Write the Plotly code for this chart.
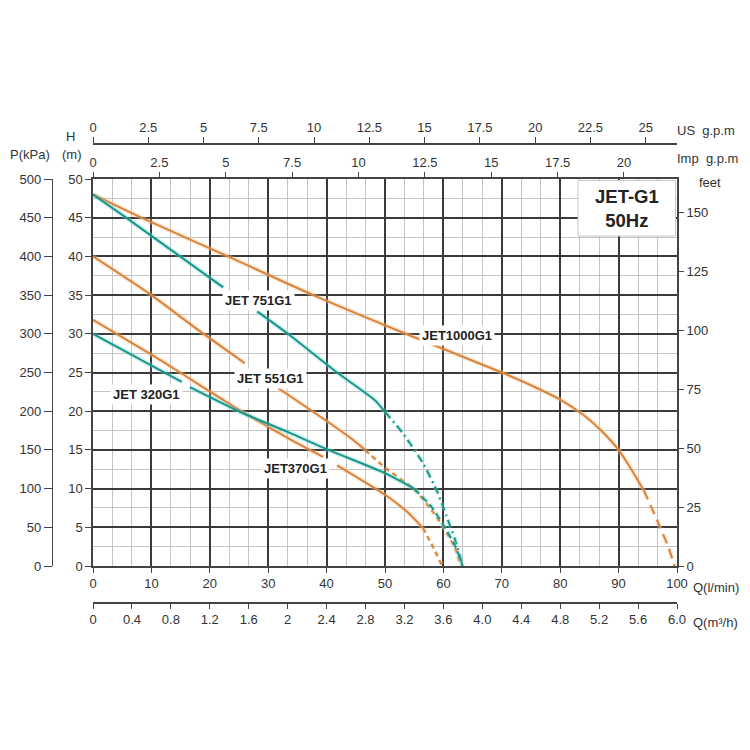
import plotly.graph_objects as go

W = 750
H = 750


def px(x):
    return x / W


def py(y):
    return 1 - y / H


# ---------------- data (Q in l/min, H in m) ----------------
q_1000 = [0, 8, 23.1, 37.7, 52.6, 70, 76, 80, 84, 87, 90, 92, 94.3]
h_1000 = [48, 45.1, 40, 35, 30.3, 25, 23, 21.5, 19.5, 17.5, 15, 12.7, 9.8]
q_1000_d = [94.3, 96.6, 98.5, 99.6]
h_1000_d = [9.8, 5.9, 2.5, 0]

q_751 = [0, 5.5, 14.9, 22.3, None, 28.1, 33.2, 41.8, 48.3, 50]
h_751 = [48, 45.1, 40, 36, None, 32.9, 30.1, 25, 21.4, 19.9]
q_751_d = [50, 53, 56.5, 59, 60.5, 62, 63.3]
h_751_d = [19.9, 17.2, 13.3, 9.5, 6.5, 3.4, 0]

q_551 = [0, 10, 18, 26, None, 31.7, 39.7, 44, 46.6]
h_551 = [40, 35, 30.5, 26.2, None, 23, 18.9, 16.6, 15]
q_551_d = [46.6, 50, 55, 58, 60, 62, 63]
h_551_d = [15, 12.7, 9.9, 7.2, 5, 2.3, 0]

q_370 = [0, 9.8, 14.9, 25.2, 33.7, 39.4, None, 41.8, 50, 53.8, 56.5]
h_370 = [31.8, 27.4, 25, 20.1, 16.4, 14.1, None, 13, 9.2, 7, 4.9]
q_370_d = [56.5, 58.2, 59.8]
h_370_d = [4.9, 2.5, 0]

q_320 = [0, 9.8, 15.2, None, 16.6, 25.2, 33.7, 40, 50, 55]
h_320 = [30, 26, 23.8, None, 23.1, 19.9, 17.2, 15.1, 12, 10]
q_320_d = [55, 58, 60, 62, 63.3]
h_320_d = [10, 7.6, 5.3, 2.6, 0]

labels = ["JET1000G1", "JET 751G1", "JET 551G1", "JET370G1", "JET 320G1"]

m3h_ticks = [0, 0.4, 0.8, 1.2, 1.6, 2, 2.4, 2.8, 3.2, 3.6, 4.0, 4.4, 4.8, 5.2, 5.6, 6.0]
m3h_text = ["0", "0.4", "0.8", "1.2", "1.6", "2", "2.4", "2.8", "3.2", "3.6",
            "4.0", "4.4", "4.8", "5.2", "5.6", "6.0"]
us_ticks = [0, 2.5, 5, 7.5, 10, 12.5, 15, 17.5, 20, 22.5, 25]
imp_ticks = [0, 2.5, 5, 7.5, 10, 12.5, 15, 17.5, 20]
kpa_ticks = list(range(0, 501, 50))
feet_ticks = [0, 25, 50, 75, 100, 125, 150]

# unit conversions (from l/min and m)
LPM_PER_M3H = 1000 / 60
LPM_PER_USG = 3.78541
LPM_PER_IMPG = 4.54609
KPA_PER_M = 10.0
M_PER_FT = 0.3048

ORANGE = "#D8843C"
TEAL = "#19968A"
HALO_O = "rgba(246,190,140,0.33)"
HALO_T = "rgba(120,212,206,0.33)"
FONT = "Liberation Sans, Arial, sans-serif"
TXT = "#333333"

fig = go.Figure()


def add_curve(q, h, color, halo, dash="solid"):
    fig.add_trace(go.Scatter(x=q, y=h, mode="lines",
                             line=dict(color=halo, width=5, dash=dash, shape="spline", smoothing=0.6),
                             hoverinfo="skip", showlegend=False, connectgaps=False))
    fig.add_trace(go.Scatter(x=q, y=h, mode="lines",
                             line=dict(color=color, width=2, dash=dash, shape="spline", smoothing=0.6),
                             showlegend=False, connectgaps=False))


add_curve(q_1000, h_1000, ORANGE, HALO_O)
add_curve(q_1000_d, h_1000_d, ORANGE, HALO_O, "10px,6px")
add_curve(q_551, h_551, ORANGE, HALO_O)
add_curve(q_551_d, h_551_d, ORANGE, HALO_O, "5px,4px")
add_curve(q_370, h_370, ORANGE, HALO_O)
add_curve(q_370_d, h_370_d, ORANGE, HALO_O, "5px,4px")
add_curve(q_751, h_751, TEAL, HALO_T)
add_curve(q_751_d, h_751_d, TEAL, HALO_T, "8px,4px,2px,4px")
add_curve(q_320, h_320, TEAL, HALO_T)
add_curve(q_320_d, h_320_d, TEAL, HALO_T, "7px,4px")

# invisible copies of the JET1000G1 curve in the secondary units, so every extra axis is drawn
q_conv = [q for q in q_1000 if q is not None]
h_conv = [h for h in h_1000 if h is not None]
inv = dict(mode="lines", line=dict(width=0, color="rgba(0,0,0,0)"), hoverinfo="skip", showlegend=False)
fig.add_trace(go.Scatter(x=[q / LPM_PER_M3H for q in q_conv], y=h_conv, xaxis="x2", yaxis="y", **inv))
fig.add_trace(go.Scatter(x=[q / LPM_PER_USG for q in q_conv], y=h_conv, xaxis="x3", yaxis="y", **inv))
fig.add_trace(go.Scatter(x=[q / LPM_PER_IMPG for q in q_conv], y=h_conv, xaxis="x4", yaxis="y", **inv))
fig.add_trace(go.Scatter(x=q_conv, y=[h * KPA_PER_M for h in h_conv], xaxis="x", yaxis="y2", **inv))
fig.add_trace(go.Scatter(x=q_conv, y=[h / M_PER_FT for h in h_conv], xaxis="x", yaxis="y3", **inv))

tickfont = dict(family=FONT, size=13, color=TXT)
AX = "#444444"

common = dict(automargin=False, fixedrange=True, zeroline=False)

fig.update_layout(
    width=W, height=H, autosize=False,
    margin=dict(l=0, r=0, t=0, b=0, pad=0, autoexpand=False),
    paper_bgcolor="white", plot_bgcolor="white",
    showlegend=False,
    xaxis=dict(domain=[px(93), px(677)], range=[0, 100], tickvals=list(range(0, 101, 10)),
               showgrid=True, gridcolor="#3a3a3a", gridwidth=1.6,
               minor=dict(dtick=10 / 3, tick0=0, showgrid=True, gridcolor="#c4c4c4", gridwidth=1, ticks=""),
               showline=True, linecolor=AX, linewidth=1.5, mirror=True,
               ticks="outside", ticklen=5, tickcolor=AX, tickfont=tickfont,
               anchor="y", **common),
    yaxis=dict(domain=[py(566), py(179)], range=[0, 50], tickvals=list(range(0, 51, 5)),
               showgrid=True, gridcolor="#3a3a3a", gridwidth=1.6,
               minor=dict(dtick=2.5, tick0=0, showgrid=True, gridcolor="#c4c4c4", gridwidth=1, ticks=""),
               showline=True, linecolor=AX, linewidth=1.5, mirror=True,
               ticks="outside", ticklen=6, tickcolor=AX, tickfont=tickfont,
               anchor="x", **common),
    xaxis2=dict(overlaying="x", anchor="free", position=py(603), side="bottom",
                range=[0, 100 / LPM_PER_M3H], tickvals=m3h_ticks, ticktext=m3h_text,
                showgrid=False, showline=True, linecolor=AX, linewidth=1.5,
                ticks="outside", ticklen=5, tickcolor=AX, tickfont=tickfont, **common),
    xaxis3=dict(overlaying="x", anchor="free", position=py(144), side="top",
                range=[0, 100 / LPM_PER_USG], tickvals=us_ticks, ticktext=[f"{v:g}" for v in us_ticks],
                showgrid=False, showline=True, linecolor=AX, linewidth=1.5,
                ticks="outside", ticklen=6, tickcolor=AX, tickfont=tickfont, **common),
    xaxis4=dict(overlaying="x", anchor="y", side="top",
                range=[0, 100 / LPM_PER_IMPG], tickvals=imp_ticks, ticktext=[f"{v:g}" for v in imp_ticks],
                showgrid=False, showline=False,
                ticks="outside", ticklen=6, tickcolor=AX, tickfont=tickfont, **common),
    yaxis2=dict(overlaying="y", anchor="free", position=px(52), side="left",
                range=[0, 50 * KPA_PER_M], tickvals=kpa_ticks,
                showgrid=False, showline=True, linecolor=AX, linewidth=1.2,
                ticks="outside", ticklen=8, tickcolor=AX, tickfont=tickfont, **common),
    yaxis3=dict(overlaying="y", anchor="x", side="right",
                range=[0, 50 / M_PER_FT], tickvals=feet_ticks,
                showgrid=False, showline=False,
                ticks="outside", ticklen=6, tickcolor=AX, tickfont=tickfont, **common),
)

# Title box
fig.add_shape(type="rect", xref="paper", yref="paper", x0=px(578), x1=px(675.5), y0=py(236), y1=py(180.5),
              fillcolor="white", line=dict(color="#c8c8c8", width=1), layer="above")

ann = []


def text(x, y, s, size=13, bold=False, xanchor="center", bg=None, color=TXT):
    d = dict(x=px(x), y=py(y), xref="paper", yref="paper", text=(f"<b>{s}</b>" if bold else s),
             showarrow=False, xanchor=xanchor, yanchor="middle",
             font=dict(family=FONT, size=size, color=color))
    if bg:
        d.update(bgcolor=bg, borderpad=2)
    ann.append(d)


text(627, 208, "JET-G1<br>50Hz", size=18.5, bold=True, color="#222222")

# curve labels
text(457, 336, labels[0], bold=True, bg="white", color="#222222")
text(258, 300, labels[1], bold=True, bg="white", color="#222222")
text(270, 378, labels[2], bold=True, bg="white", color="#222222")
text(295, 468, labels[3], bold=True, bg="white", color="#222222")
text(146, 395, labels[4], bold=True, bg="white", color="#222222")

# units
text(30, 154, "P(kPa)")
text(70, 136, "H")
text(72, 154, "(m)")
text(675, 131, "US  g.p.m", xanchor="left")
text(675, 159, "Imp  g.p.m", xanchor="left")
text(710, 182, "feet")
text(691, 587, "Q(l/min)", xanchor="left")
text(691, 622, "Q(m³/h)", xanchor="left")

fig.update_layout(annotations=ann)

fig.write_html("out.html", post_script="document.body.style.margin='0';document.body.style.overflow='hidden';")
